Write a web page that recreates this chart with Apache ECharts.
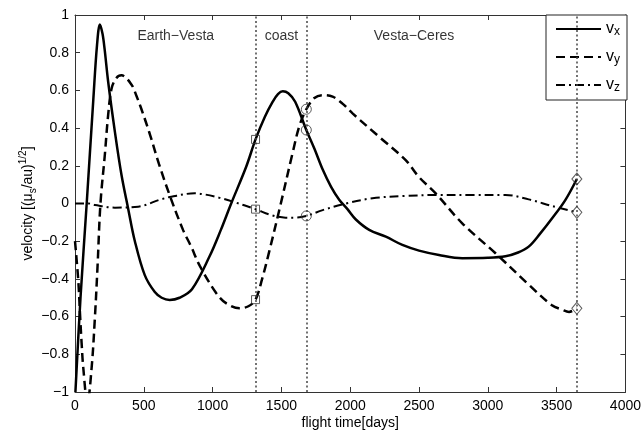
<!DOCTYPE html>
<html><head><meta charset="utf-8">
<script src="https://cdn.jsdelivr.net/npm/echarts@6/dist/echarts.min.js"></script>
<style>html,body{margin:0;padding:0;background:#fff}#c{width:644px;height:437px}</style>
</head><body><div id="c"></div>
<script>
// ---- data ----
const vxDays = [3,40,85,133,160,181,200,215,241,290,338,386,435,507,580,630,688,760,850,978,1060,1135,1244,1312,1380,1437,1475,1510,1550,1600,1681,1740,1800,1860,1920,1980,2041,2138,2259,2379,2500,2645,2814,3000,3128,3220,3297,3380,3466,3563,3647];
const vxVals = [-1.0,-0.5,0.0,0.55,0.84,0.95,0.9,0.82,0.646,0.38,0.151,-0.026,-0.2,-0.38,-0.47,-0.5,-0.512,-0.5,-0.455,-0.28,-0.14,0.0,0.195,0.34,0.46,0.54,0.58,0.595,0.585,0.54,0.39,0.29,0.18,0.09,0.02,-0.03,-0.085,-0.14,-0.176,-0.22,-0.25,-0.273,-0.29,-0.288,-0.28,-0.26,-0.229,-0.16,-0.08,0.018,0.13];

const vyDays = [0,24,36,48,60,90,121,145,164,185,217,241,266,300,338,411,447,483,543,610,690,785,845,906,1027,1100,1196,1260,1312,1360,1413,1486,1582,1630,1681,1740,1800,1872,1944,2017,2210,2403,2500,2621,2814,3056,3297,3466,3539,3590,3647];
const vyVals = [-0.2,-0.41,-0.58,-0.74,-0.87,-1.06,-0.87,-0.6,-0.33,0.0,0.26,0.47,0.61,0.665,0.68,0.63,0.57,0.5,0.37,0.21,0.04,-0.14,-0.23,-0.33,-0.476,-0.53,-0.556,-0.545,-0.51,-0.4,-0.25,-0.03,0.27,0.41,0.5,0.56,0.575,0.567,0.53,0.478,0.354,0.23,0.14,0.054,-0.105,-0.264,-0.43,-0.54,-0.563,-0.575,-0.556];

const vzDays = [0,100,145,290,459,616,700,870,950,1051,1147,1312,1420,1530,1600,1681,1800,1969,2162,2403,2621,2900,3128,3297,3466,3647];
const vzVals = [0,0,-0.008,-0.022,-0.017,0.02,0.036,0.054,0.047,0.03,0.01,-0.03,-0.06,-0.075,-0.075,-0.066,-0.035,0.0,0.028,0.04,0.045,0.045,0.045,0.022,-0.013,-0.047];

const phaseLineDays = [1312, 1681, 3647];
const squareVals = [0.34, -0.03, -0.51];     // at 1312 days
const circleVals = [0.5, 0.39, -0.066];      // at 1681 days
const diamondVals = [0.13, -0.047, -0.556];  // at 3647 days

const phaseNames = ['Earth\u2212Vesta', 'coast', 'Vesta\u2212Ceres'];
const phaseLabelDays = [732, 1500, 2464];
const phaseLabelY = 0.89;

const xTicks = [0,500,1000,1500,2000,2500,3000,3500,4000];
const yTicks = [-1,-0.8,-0.6,-0.4,-0.2,0,0.2,0.4,0.6,0.8,1];

// ---- chart ----
const zip = (a, b) => a.map((d, i) => [d, b[i]]);
const fmtY = v => { const r = Math.round(v * 10) / 10; return r < 0 ? '\u2212' + Math.abs(r) : String(r); };
const fmtX = v => String(Math.round(v));
const FONT = 'Liberation Sans, Arial, sans-serif';
const AX = '#333';

const chart = echarts.init(document.getElementById('c'));
const lineBase = { type: 'line', symbol: 'none', smooth: 0.35, clip: true, z: 3 };

chart.setOption({
  animation: false,
  backgroundColor: '#fff',
  textStyle: { fontFamily: FONT },
  grid: { left: 75, right: 17, top: 15, bottom: 45 },
  xAxis: [
    { type: 'value', min: xTicks[0], max: xTicks[xTicks.length - 1], interval: 500,
      axisLine: { show: true, onZero: false, lineStyle: { color: AX, width: 1 } },
      axisTick: { show: true, inside: true, length: 5, lineStyle: { color: AX } },
      axisLabel: { color: '#000', fontSize: 14, margin: 7, formatter: fmtX, fontFamily: FONT },
      splitLine: { show: false },
      name: 'flight time[days]', nameLocation: 'middle', nameGap: 24, nameMoveOverlap: false,
      nameTextStyle: { color: '#000', fontSize: 14, fontFamily: FONT } },
    { type: 'value', position: 'top', min: 0, max: 4000, interval: 500,
      axisLine: { show: true, onZero: false, lineStyle: { color: AX, width: 1 } },
      axisTick: { show: true, inside: true, length: 5, lineStyle: { color: AX } },
      axisLabel: { show: false }, splitLine: { show: false } }
  ],
  yAxis: [
    { type: 'value', min: yTicks[0], max: yTicks[yTicks.length - 1], interval: 0.2,
      axisLine: { show: true, onZero: false, lineStyle: { color: AX, width: 1 } },
      axisTick: { show: true, inside: true, length: 5, lineStyle: { color: AX } },
      axisLabel: { color: '#000', fontSize: 14, margin: 6, formatter: fmtY, fontFamily: FONT },
      splitLine: { show: false },
      name: '{b|velocity [(\u03bc}{sub|s}{b|/au)}{sup|1/2}{b|]}',
      nameLocation: 'middle', nameGap: 37, nameRotate: 90, nameMoveOverlap: false,
      nameTextStyle: { color: '#000', fontFamily: FONT,
        rich: {
          b: { fontSize: 14, lineHeight: 20, color: '#000', fontFamily: FONT },
          sub: { fontSize: 10, lineHeight: 10, verticalAlign: 'bottom', color: '#000', fontFamily: FONT },
          sup: { fontSize: 10, lineHeight: 10, verticalAlign: 'top', color: '#000', fontFamily: FONT }
        } } },
    { type: 'value', position: 'right', min: -1, max: 1, interval: 0.2,
      axisLine: { show: true, onZero: false, lineStyle: { color: AX, width: 1 } },
      axisTick: { show: true, inside: true, length: 5, lineStyle: { color: AX } },
      axisLabel: { show: false }, splitLine: { show: false } }
  ],
  legend: {
    data: ['vx', 'vy', 'vz'], orient: 'vertical', right: 17, top: 15,
    backgroundColor: '#fff', borderColor: '#222', borderWidth: 1, borderRadius: 0,
    padding: [6, 7, 6, 9], itemWidth: 45, itemHeight: 14, itemGap: 11,
    itemStyle: { opacity: 0 },
    formatter: n => '{v|v}{s|' + n.slice(1) + '}',
    textStyle: { color: '#000', fontFamily: FONT,
      rich: { v: { fontSize: 16, lineHeight: 18, color: '#000' },
              s: { fontSize: 12, lineHeight: 10, verticalAlign: 'bottom', color: '#000' } } }
  },
  series: [
    Object.assign({}, lineBase, { name: 'vx', data: zip(vxDays, vxVals),
      lineStyle: { color: '#000', width: 2.5, type: 'solid' }, itemStyle: { color: '#000' } }),
    Object.assign({}, lineBase, { name: 'vy', data: zip(vyDays, vyVals),
      lineStyle: { color: '#000', width: 2.5, type: [9, 5] }, itemStyle: { color: '#000' } }),
    Object.assign({}, lineBase, { name: 'vz', data: zip(vzDays, vzVals),
      lineStyle: { color: '#000', width: 2, type: [9, 4, 2, 4] }, itemStyle: { color: '#000' },
      markLine: { silent: true, symbol: 'none', label: { show: false },
        lineStyle: { color: '#444', width: 1.5, type: [2, 2.5] },
        data: phaseLineDays.map(d => ({ xAxis: d })) } }),
    { type: 'scatter', name: 'sq', symbol: 'rect', symbolSize: 8, z: 5,
      data: squareVals.map(v => [phaseLineDays[0], v]),
      itemStyle: { color: 'rgba(255,255,255,0)', borderColor: '#333', borderWidth: 1 } },
    { type: 'scatter', name: 'ci', symbol: 'circle', symbolSize: 10, z: 5,
      data: circleVals.map(v => [phaseLineDays[1], v]),
      itemStyle: { color: 'rgba(255,255,255,0)', borderColor: '#333', borderWidth: 1 } },
    { type: 'scatter', name: 'di', symbol: 'diamond', symbolSize: [10, 12], z: 5,
      data: diamondVals.map(v => [phaseLineDays[2], v]),
      itemStyle: { color: 'rgba(255,255,255,0)', borderColor: '#333', borderWidth: 1 } },
    { type: 'scatter', name: 'phases', symbolSize: 0, z: 6, silent: true,
      data: phaseNames.map((n, i) => ({ value: [phaseLabelDays[i], phaseLabelY], name: n })),
      label: { show: true, position: 'inside', formatter: p => p.name, color: '#000', fontSize: 14, fontFamily: FONT } }
  ]
});
</script>
</body></html>
